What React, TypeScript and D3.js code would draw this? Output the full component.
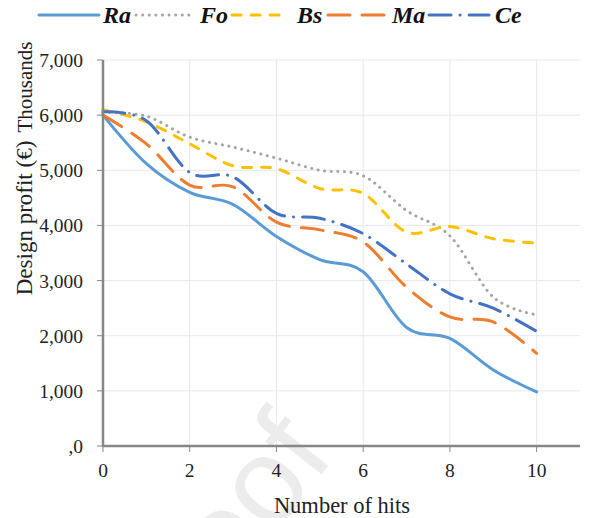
import React, { useEffect, useRef } from 'react';
import * as d3 from 'd3';

const hits = [0, 1, 2, 3, 4, 5, 6, 7, 8, 9, 10];
const ra = [6000, 5120, 4600, 4380, 3800, 3380, 3160, 2150, 1950, 1380, 980];
const fo = [6050, 5980, 5600, 5420, 5220, 5000, 4900, 4270, 3810, 2700, 2380];
const bs = [6100, 5880, 5480, 5080, 5030, 4670, 4580, 3880, 3980, 3760, 3680];
const ma = [6000, 5480, 4730, 4700, 4060, 3920, 3700, 2880, 2340, 2250, 1680];
const ce = [6060, 5900, 4960, 4880, 4220, 4130, 3850, 3300, 2760, 2500, 2080];

const seriesNames = ['Ra', 'Fo', 'Bs', 'Ma', 'Ce'];
const xTicks = [0, 2, 4, 6, 8, 10];
const yTicks = [0, 1000, 2000, 3000, 4000, 5000, 6000, 7000];
const yTickLabels = [',0', '1,000', '2,000', '3,000', '4,000', '5,000', '6,000', '7,000'];

const W = 595;
const H = 518;
const serif = '"Liberation Serif", "Times New Roman", serif';

export default function App() {
  const svgRef = useRef<SVGSVGElement>(null);

  useEffect(() => {
    if (!svgRef.current) return;
    const svg = d3.select(svgRef.current);
    svg.selectAll('*').remove();

    const x = d3.scaleLinear().domain([0, 11]).range([103, 580]);
    const y = d3.scaleLinear().domain([0, 7000]).range([446, 60]);

    const styles = [
      { color: '#5B9BD5', dash: null },
      { color: '#A5A5A5', dash: '0.1 6.5' },
      { color: '#FFC000', dash: '9 10' },
      { color: '#ED7D31', dash: '22 12' },
      { color: '#4472C4', dash: '22 9 0.1 9' },
    ];
    const data = [ra, fo, bs, ma, ce];

    // gridlines
    const grid = svg.append('g');
    yTicks.slice(1).forEach(t => {
      grid.append('line')
        .attr('x1', x(0)).attr('x2', x(11))
        .attr('y1', y(t)).attr('y2', y(t))
        .attr('stroke', '#E6E8EF').attr('stroke-width', 1);
    });
    xTicks.slice(1).forEach(t => {
      grid.append('line')
        .attr('x1', x(t)).attr('x2', x(t))
        .attr('y1', y(0)).attr('y2', y(7000))
        .attr('stroke', '#E6E8EF').attr('stroke-width', 1);
    });

    // watermark
    svg.append('text')
      .attr('transform', 'translate(336,456) rotate(-52)')
      .attr('text-anchor', 'end')
      .attr('font-family', '"Liberation Sans", Arial, sans-serif')
      .attr('font-size', 122)
      .attr('fill', '#ECECEC')
      .text('Proof');

    // lines
    const line = d3.line<number>()
      .x((d, i) => x(hits[i]))
      .y(d => y(d))
      .curve(d3.curveCardinal.tension(0));

    data.forEach((vals, i) => {
      const p = svg.append('path')
        .datum(vals)
        .attr('fill', 'none')
        .attr('stroke', styles[i].color)
        .attr('stroke-width', 3)
        .attr('stroke-linecap', 'round')
        .attr('d', line);
      if (styles[i].dash) p.attr('stroke-dasharray', styles[i].dash);
    });

    // axes
    const axisColor = '#878787';
    svg.append('line')
      .attr('x1', x(0)).attr('x2', x(0))
      .attr('y1', y(7000)).attr('y2', y(0) + 1)
      .attr('stroke', axisColor).attr('stroke-width', 2.5);
    svg.append('line')
      .attr('x1', x(0) - 1).attr('x2', x(11))
      .attr('y1', y(0)).attr('y2', y(0))
      .attr('stroke', axisColor).attr('stroke-width', 2.5);

    yTicks.forEach((t, i) => {
      svg.append('line')
        .attr('x1', x(0) - 6).attr('x2', x(0))
        .attr('y1', y(t)).attr('y2', y(t))
        .attr('stroke', axisColor).attr('stroke-width', 1);
      svg.append('text')
        .attr('x', 83).attr('y', y(t) + 7)
        .attr('text-anchor', 'end')
        .attr('font-family', serif).attr('font-size', 19.5)
        .attr('fill', '#222')
        .text(yTickLabels[i]);
    });
    xTicks.forEach(t => {
      svg.append('line')
        .attr('x1', x(t)).attr('x2', x(t))
        .attr('y1', y(0)).attr('y2', y(0) + 6)
        .attr('stroke', axisColor).attr('stroke-width', 1);
      svg.append('text')
        .attr('x', x(t)).attr('y', 477)
        .attr('text-anchor', 'middle')
        .attr('font-family', serif).attr('font-size', 19.5)
        .attr('fill', '#222')
        .text(String(t));
    });

    // axis titles
    svg.append('text')
      .attr('x', 342).attr('y', 513)
      .attr('text-anchor', 'middle')
      .attr('font-family', serif).attr('font-size', 22.5)
      .attr('fill', '#222')
      .text('Number of hits');
    svg.append('text')
      .attr('transform', 'translate(32,218) rotate(-90)')
      .attr('text-anchor', 'middle')
      .attr('font-family', serif).attr('font-size', 23)
      .attr('fill', '#222')
      .text('Design profit (€)');
    svg.append('text')
      .attr('transform', 'translate(32,87) rotate(-90)')
      .attr('text-anchor', 'middle')
      .attr('font-family', serif).attr('font-size', 21)
      .attr('fill', '#222')
      .text('Thousands');

    // legend
    const legendLineX = [39, 136, 232, 328, 429];
    const legendLineW = [60, 56, 56, 58, 60];
    const legendTextX = [103, 200, 297, 392, 495];
    seriesNames.forEach((name, i) => {
      const l = svg.append('line')
        .attr('x1', legendLineX[i]).attr('x2', legendLineX[i] + legendLineW[i])
        .attr('y1', 15).attr('y2', 15)
        .attr('stroke', styles[i].color)
        .attr('stroke-width', 3)
        .attr('stroke-linecap', 'round');
      if (styles[i].dash) l.attr('stroke-dasharray', styles[i].dash);
      svg.append('text')
        .attr('x', legendTextX[i]).attr('y', 23)
        .attr('font-family', serif).attr('font-size', 24)
        .attr('font-weight', 'bold').attr('font-style', 'italic')
        .attr('fill', '#111')
        .text(name);
    });
  }, []);

  return (
    <svg
      ref={svgRef}
      width={W}
      height={H}
      style={{ position: 'absolute', left: 0, top: 0, background: '#fff' }}
    />
  );
}
